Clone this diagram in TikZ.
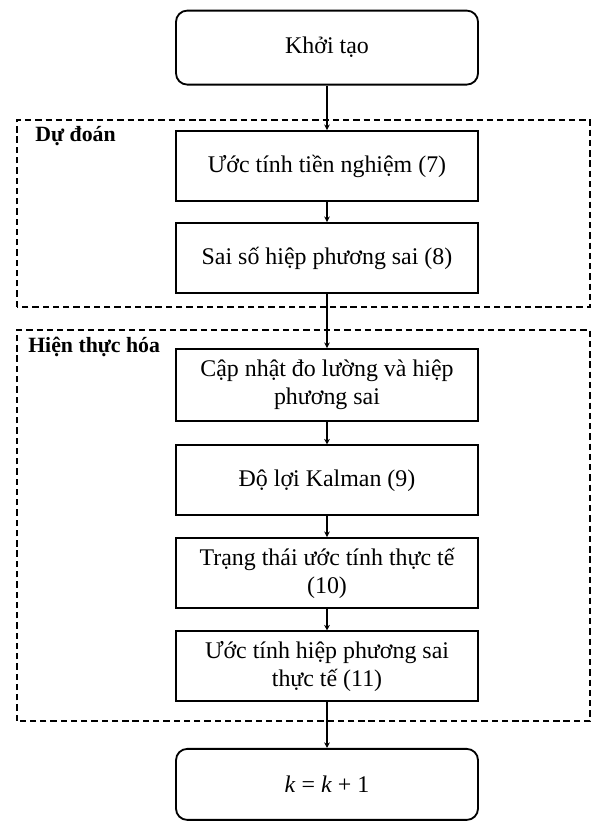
\documentclass[tikz,border=0pt]{standalone}
\usepackage{fontspec}
\setmainfont{Liberation Serif}
\usetikzlibrary{positioning,arrows.meta}
\tikzset{
    % Process boxes
    procbox/.style={
        draw=black,
        fill=white,
        line width=1.3pt,
        minimum width=7.55cm,
        minimum height=1.75cm,
        align=center,
        font=\fontsize{17}{20}\selectfont
    },
    % Start / end boxes
    termbox/.style={
        procbox,
        rounded corners=8pt,
        minimum height=1.85cm
    },
    % Dashed phase frame
    phaseframe/.style={
        draw=black,
        line width=1pt,
        dash pattern=on 4.5pt off 2.8pt
    },
    % Phase title
    phaselabel/.style={
        anchor=west,
        inner sep=0pt,
        font=\fontsize{15.5}{18}\selectfont\bfseries
    },
    % Flow arrows
    flowarrow/.style={
        -{Stealth[length=1.4mm,width=1.4mm]},
        line width=1.1pt,
        black
    }
}
\begin{document}
\begin{tikzpicture}
\useasboundingbox (0,0) rectangle (14.825,20.55);

% ==================== PHASE FRAMES ====================
\draw[phaseframe] (0.425,12.875) rectangle (14.75,17.55);
\node[phaselabel] (predlabel) at (0.88,17.15) {Dự đoán};

\draw[phaseframe] (0.425,2.525) rectangle (14.75,12.3);
\node[phaselabel] (corrlabel) at (0.7,11.87) {Hiện thực hóa};

% ==================== START ====================
\node[termbox] (init) at (8.175,19.36) {Khởi tạo};

% ==================== PREDICTION ====================
\node[procbox] (prior) at (8.175,16.4) {Ước tính tiền nghiệm (7)};
\node[procbox] (errcov) at (8.175,14.1) {Sai số hiệp phương sai (8)};

% ==================== CORRECTION ====================
\node[procbox, minimum height=1.8cm] (update) at (8.175,10.925)
    {Cập nhật đo lường và hiệp\\phương sai};
\node[procbox] (gain) at (8.175,8.54) {Độ lợi Kalman (9)};
\node[procbox] (state) at (8.175,6.225) {Trạng thái ước tính thực tế\\(10)};
\node[procbox] (postcov) at (8.175,3.89) {Ước tính hiệp phương sai\\thực tế (11)};

% ==================== NEXT STEP ====================
\node[termbox, minimum height=1.775cm] (incr) at (8.175,0.94) {\textit{k} = \textit{k} + 1};

% ==================== ARROWS ====================
\draw[flowarrow] (init.south) -- (prior.north);
\draw[flowarrow] (prior.south) -- (errcov.north);
\draw[flowarrow] (errcov.south) -- (update.north);
\draw[flowarrow] (update.south) -- (gain.north);
\draw[flowarrow] (gain.south) -- (state.north);
\draw[flowarrow] (state.south) -- (postcov.north);
\draw[flowarrow] (postcov.south) -- (incr.north);

\end{tikzpicture}
\end{document}
